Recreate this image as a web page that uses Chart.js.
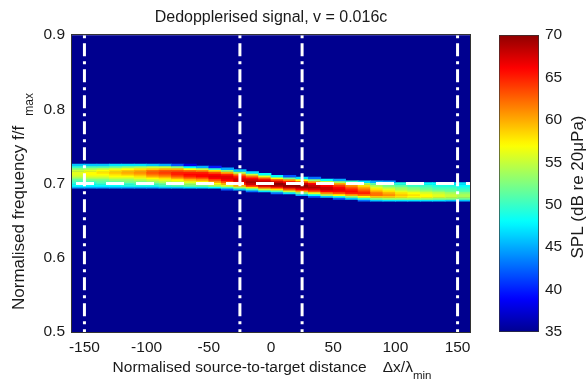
<!DOCTYPE html>
<html><head><meta charset="utf-8">
<script src="https://cdn.jsdelivr.net/npm/chart.js@4.4.1/dist/chart.umd.min.js"></script>
<style>
html,body{margin:0;padding:0;background:#fff;}
#wrap{position:relative;width:588px;height:387px;overflow:hidden;}
#main{position:absolute;left:0;top:0;}
#cbar{position:absolute;left:494px;top:0;}
</style></head><body>
<div id="wrap"><canvas id="main" width="588" height="387"></canvas><canvas id="cbar" width="94" height="387"></canvas></div>
<script>
// ---- data ----
const chartTitle = 'Dedopplerised signal, v = 0.016c';
const xColumns = [-155,-145,-135,-125,-115,-105,-95,-85,-75,-65,-55,-45,-35,-25,-15,-5,5,15,25,35,45,55,65,75,85,95,105,115,125,135,145,155];
const freqRows = [0.7275,0.7250,0.7225,0.7200,0.7175,0.7150,0.7125,0.7100,0.7075,0.7050,0.7025,0.7000,0.6975,0.6950,0.6925,0.6900,0.6875,0.6850,0.6825,0.6800,0.6775,0.6750,0.6725,0.6700];
const xTickValues = [-150,-100,-50,0,50,100,150];
const yTickValues = [0.5,0.6,0.7,0.8,0.9];
const splTickValues = [35,40,45,50,55,60,65,70];
const markerPositions = [-150,-25,25,150];
const carrierFreq = 0.7;
// SPL (dB) per column (x), rows top->bottom as freqRows
const splColumns = [
[35,46,50,53,55,56,56,55,53,51,50,49,48,45,35,35,35,35,35,35,35,35,35,35],
[35,46,51,54,56,57,57,56,54,52,50,49,48,45,35,35,35,35,35,35,35,35,35,35],
[35,46,51,55,57,58,57,56,54,52,51,50,48,45,35,35,35,35,35,35,35,35,35,35],
[35,47,52,56,58,59,58,57,55,53,51,50,48,45,35,35,35,35,35,35,35,35,35,35],
[35,47,53,57,59,60,59,57,55,53,52,50,49,45,35,35,35,35,35,35,35,35,35,35],
[35,47,54,58,60,61,60,58,56,54,52,51,49,45,35,35,35,35,35,35,35,35,35,35],
[35,46,55,59,62,63,62,60,57,55,53,51,49,45,35,35,35,35,35,35,35,35,35,35],
[35,45,55,60,63,64,63,61,58,56,54,52,50,46,35,35,35,35,35,35,35,35,35,35],
[35,42,53,60,63,65,65,63,60,57,55,53,51,46,35,35,35,35,35,35,35,35,35,35],
[35,38,48,57,62,65,66,65,62,59,56,54,52,47,35,35,35,35,35,35,35,35,35,35],
[35,35,45,55,61,65,66,66,63,60,57,55,52,47,35,35,35,35,35,35,35,35,35,35],
[35,35,40,50,58,63,66,67,66,63,60,57,54,48,35,35,35,35,35,35,35,35,35,35],
[35,35,35,45,53,60,65,67,67,66,63,60,56,50,42,35,35,35,35,35,35,35,35,35],
[35,35,35,35,46,54,61,65,67,68,67,65,60,54,46,35,35,35,35,35,35,35,35,35],
[35,35,35,35,35,47,55,62,66,68,69,68,65,58,50,43,35,35,35,35,35,35,35,35],
[35,35,35,35,35,35,48,56,63,67,69,70,68,63,55,47,35,35,35,35,35,35,35,35],
[35,35,35,35,35,35,35,48,57,64,68,70,69,65,58,50,43,35,35,35,35,35,35,35],
[35,35,35,35,35,35,35,42,52,61,66,69,70,68,63,55,47,35,35,35,35,35,35,35],
[35,35,35,35,35,35,35,35,47,57,64,68,70,69,66,60,52,45,35,35,35,35,35,35],
[35,35,35,35,35,35,35,35,43,53,61,66,68,69,67,63,56,48,42,35,35,35,35,35],
[35,35,35,35,35,35,35,35,35,48,57,63,66,68,68,66,61,54,46,35,35,35,35,35],
[35,35,35,35,35,35,35,35,35,45,54,60,64,66,67,66,63,57,49,42,35,35,35,35],
[35,35,35,35,35,35,35,35,35,35,50,57,61,63,65,66,65,60,53,46,35,35,35,35],
[35,35,35,35,35,35,35,35,35,35,47,54,58,60,62,64,65,62,57,50,43,35,35,35],
[35,35,35,35,35,35,35,35,35,35,45,51,54,56,58,60,62,62,59,53,46,35,35,35],
[35,35,35,35,35,35,35,35,35,35,44,50,52,54,56,58,60,61,59,54,47,35,35,35],
[35,35,35,35,35,35,35,35,35,35,35,49,51,53,54,56,58,59,58,54,47,35,35,35],
[35,35,35,35,35,35,35,35,35,35,35,48,50,52,53,55,57,58,57,54,47,35,35,35],
[35,35,35,35,35,35,35,35,35,35,35,48,50,51,52,54,56,57,57,54,47,35,35,35],
[35,35,35,35,35,35,35,35,35,35,35,48,49,50,51,53,55,56,56,53,47,35,35,35],
[35,35,35,35,35,35,35,35,35,35,35,47,49,50,51,52,54,55,55,53,46,35,35,35],
[35,35,35,35,35,35,35,35,35,35,35,47,48,49,50,51,53,54,54,52,46,35,35,35]
];

// ---- styling / helpers ----
const FONT = '"Liberation Sans", Arial, Helvetica, sans-serif';
const SPL_MIN = 35, SPL_MAX = 70;
const ROW_H = 0.0025;
function jet(v){
  let t = (v - SPL_MIN) / (SPL_MAX - SPL_MIN);
  t = Math.max(0, Math.min(1, t)) * 62/64 + 1/64;
  const c = x => Math.round(255 * Math.max(0, Math.min(1, 1.5 - Math.abs(x))));
  return 'rgb(' + c(4*t-3) + ',' + c(4*t-2) + ',' + c(4*t-1) + ')';
}

const heatDatasets = freqRows.map((f, r) => ({
  type: 'bar',
  order: 5,
  grouped: false,
  barPercentage: 1,
  categoryPercentage: 1,
  borderWidth: 0,
  data: xColumns.map((x, c) => ({x: x, y: [f - ROW_H/2, f + ROW_H/2], v: splColumns[c][r]}))
               .filter(p => p.v > SPL_MIN),
  backgroundColor: ctx => jet(ctx.raw ? ctx.raw.v : SPL_MIN)
}));

const markerDatasets = markerPositions.map(x => ({
  type: 'line', order: 0,
  data: [{x: x, y: 0.9}, {x: x, y: 0.5}],
  borderColor: '#ffffff', borderWidth: 3, borderDash: [3, 5, 13, 5],
  pointRadius: 0, fill: false, tension: 0
}));
const carrierDataset = {
  type: 'line', order: 0,
  data: [{x: -160, y: carrierFreq}, {x: 160, y: carrierFreq}],
  borderColor: '#ffffff', borderWidth: 3, borderDash: [18, 12], borderDashOffset: -4,
  pointRadius: 0, fill: false, tension: 0
};

const plotFrame = {
  id: 'plotFrame',
  beforeDatasetsDraw(chart){
    const a = chart.chartArea, ctx = chart.ctx;
    ctx.save(); ctx.fillStyle = jet(SPL_MIN);
    ctx.fillRect(a.left, a.top, a.right - a.left, a.bottom - a.top);
    ctx.restore();
  },
  afterDatasetsDraw(chart){
    const a = chart.chartArea, ctx = chart.ctx;
    ctx.save(); ctx.strokeStyle = '#333'; ctx.lineWidth = 1;
    ctx.strokeRect(Math.round(a.left) - 0.5, Math.round(a.top) - 0.5, Math.round(a.right - a.left) + 1, Math.round(a.bottom - a.top) + 1);
    ctx.restore();
  },
  afterDraw(chart){
    const a = chart.chartArea, ctx = chart.ctx;
    ctx.save();
    ctx.fillStyle = '#1a1a1a';
    ctx.textBaseline = 'middle';
    // x title
    const mainX = 'Normalised source-to-target distance';
    const symX = '\u0394x/\u03bb';
    const subX = 'min';
    ctx.font = '15.5px ' + FONT;
    const w1 = ctx.measureText(mainX).width, w2 = ctx.measureText(symX).width;
    ctx.font = '11.5px ' + FONT;
    const w3 = ctx.measureText(subX).width;
    const gap = 16;
    const total = w1 + gap + w2 + w3;
    let x0 = (a.left + a.right) / 2 - total / 2 + 1;
    const yx = 368;
    ctx.textAlign = 'left';
    ctx.font = '15.5px ' + FONT;
    ctx.fillText(mainX, x0, yx);
    ctx.fillText(symX, x0 + w1 + gap, yx);
    ctx.font = '11.5px ' + FONT;
    ctx.fillText(subX, x0 + w1 + gap + w2, yx + 8);
    // y title (rotated, reads bottom to top)
    const mainY = 'Normalised frequency f/f';
    const subY = 'max';
    ctx.font = '17px ' + FONT;
    const v1 = ctx.measureText(mainY).width;
    ctx.translate(19, 310);
    ctx.rotate(-Math.PI / 2);
    ctx.fillText(mainY, 0, 0);
    ctx.font = '12px ' + FONT;
    ctx.fillText(subY, v1 + 10, 11);
    ctx.restore();
  }
};

new Chart(document.getElementById('main'), {
  type: 'bar',
  data: { datasets: [carrierDataset, ...markerDatasets, ...heatDatasets] },
  options: {
    responsive: false, animation: false, events: [],
    layout: { padding: { left: 0, right: 118, top: 0, bottom: 0 } },
    plugins: {
      legend: { display: false }, tooltip: { enabled: false },
      title: { display: true, text: chartTitle, fullSize: false, color: '#1a1a1a',
               font: { family: FONT, size: 16, weight: 'normal' }, padding: { top: 8, bottom: 8 } }
    },
    scales: {
      x: {
        type: 'linear', min: -160, max: 160, offset: false,
        grid: { display: false, drawTicks: false },
        border: { display: false },
        ticks: { color: '#1a1a1a', padding: 6, font: { family: FONT, size: 15.5 }, maxRotation: 0, autoSkip: false,
                 callback: v => String(v) },
        afterBuildTicks: s => { s.ticks = xTickValues.map(v => ({ value: v })); },
        afterFit: s => { s.height = 55; }
      },
      y: {
        type: 'linear', min: 0.5, max: 0.9,
        grid: { display: false, drawTicks: false },
        border: { display: false },
        ticks: { color: '#1a1a1a', padding: 7, font: { family: FONT, size: 15.5 }, autoSkip: false,
                 callback: v => Number(v).toFixed(1) },
        afterBuildTicks: s => { s.ticks = yTickValues.map(v => ({ value: v })); },
        afterFit: s => { s.width = 72; }
      }
    }
  },
  plugins: [plotFrame]
});

// ---- colour bar ----
const cbarTitle = {
  id: 'cbarTitle',
  afterDraw(chart){
    const ctx = chart.ctx;
    ctx.save();
    ctx.fillStyle = '#1a1a1a';
    ctx.font = '17px ' + FONT;
    ctx.textAlign = 'center'; ctx.textBaseline = 'middle';
    ctx.translate(84, 187);
    ctx.rotate(-Math.PI / 2);
    ctx.fillText('SPL (dB re 20\u03bcPa)', 0, 0);
    ctx.restore();
  }
};
new Chart(document.getElementById('cbar'), {
  type: 'bar',
  data: { labels: ['SPL'], datasets: [{
    data: [[SPL_MIN, SPL_MAX]],
    barPercentage: 1, categoryPercentage: 1,
    borderColor: '#333', borderWidth: 1, borderSkipped: false,
    backgroundColor: ctx => {
      const ch = ctx.chart;
      if (!ch.chartArea) return jet(52);
      const ys = ch.scales.y;
      const g = ch.ctx.createLinearGradient(0, ys.getPixelForValue(SPL_MIN), 0, ys.getPixelForValue(SPL_MAX));
      for (let i = 0; i <= 64; i++) g.addColorStop(i / 64, jet(SPL_MIN + (SPL_MAX - SPL_MIN) * i / 64));
      return g;
    }
  }] },
  options: {
    responsive: false, animation: false, events: [],
    layout: { padding: { left: 5, right: 0, top: 35, bottom: 55 } },
    plugins: { legend: { display: false }, tooltip: { enabled: false } },
    scales: {
      x: { display: false },
      y: {
        position: 'right', min: SPL_MIN, max: SPL_MAX,
        grid: { display: false, drawTicks: false }, border: { display: false },
        ticks: { color: '#1a1a1a', padding: 6, font: { family: FONT, size: 15.5 }, autoSkip: false },
        afterBuildTicks: s => { s.ticks = splTickValues.map(v => ({ value: v })); },
        afterFit: s => { s.width = 49; }
      }
    }
  },
  plugins: [cbarTitle]
});
</script>
</body></html>
